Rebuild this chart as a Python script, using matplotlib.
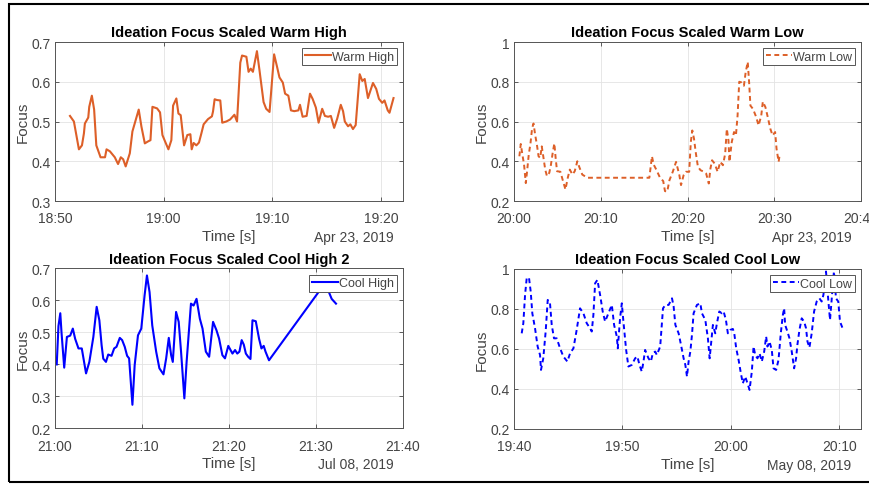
"""Ideation focus, four sessions, recreated from the MATLAB figure"""

import datetime
import matplotlib
matplotlib.use("Agg")
import matplotlib.pyplot as plt
import matplotlib.dates as mdates
from matplotlib.ticker import FuncFormatter, MultipleLocator
from matplotlib.patches import Rectangle

plt.rcParams['font.family'] = ['Liberation Sans', 'DejaVu Sans']

# --- data: minutes after the session start, and focus value ---
warm_high_min = [1.38, 1.74, 2.2, 2.48, 2.66, 2.75, 3.06, 3.15, 3.39, 3.6, 3.8, 4.19, 4.6,
                 4.74, 5.05, 5.5, 5.8, 6.05, 6.27, 6.5, 6.88, 7.12, 7.7, 7.95, 8.26, 8.56,
                 8.78, 8.96, 9.39, 9.66, 9.88, 10.12, 10.43, 10.7, 10.86, 11.16, 11.35,
                 11.56, 11.87, 12.17, 12.45, 12.57, 12.75, 13.0, 13.24, 13.46, 13.67, 14.07,
                 14.43, 14.53, 14.68, 14.9, 15.2, 15.38, 15.75, 16.1, 16.5, 16.74, 17.04,
                 17.2, 17.6, 17.8, 18.0, 18.2, 18.57, 18.8, 19.18, 19.42, 19.73, 20.15,
                 20.4, 20.64, 20.95, 21.16, 21.46, 21.7, 22.0, 22.38, 22.53, 22.77, 23.14,
                 23.45, 23.69, 23.99, 24.24, 24.57, 24.82, 25.12, 25.37, 25.67, 25.95,
                 26.28, 26.49, 26.65, 26.95, 27.16, 27.4, 27.65, 28.02, 28.26, 28.48,
                 28.78, 29.24, 29.54, 29.79, 30.09, 30.3, 30.6, 30.76, 31.13]
warm_high = [0.514, 0.50, 0.43, 0.44, 0.47, 0.495, 0.51, 0.537, 0.565, 0.53, 0.44, 0.41, 0.41,
             0.43, 0.425, 0.41, 0.393, 0.41, 0.405, 0.387, 0.42, 0.475, 0.53, 0.487, 0.445, 0.45,
             0.453, 0.537, 0.533, 0.523, 0.466, 0.45, 0.43, 0.453, 0.54, 0.558, 0.52,
             0.516, 0.44, 0.466, 0.468, 0.43, 0.446, 0.44, 0.447, 0.47, 0.493, 0.506,
             0.513, 0.525, 0.556, 0.554, 0.553, 0.497, 0.50, 0.505, 0.517, 0.50, 0.648,
             0.666, 0.663, 0.625, 0.633, 0.625, 0.677, 0.63, 0.549, 0.532, 0.524, 0.669,
             0.64, 0.611, 0.598, 0.57, 0.565, 0.528, 0.526, 0.528, 0.542, 0.512, 0.514,
             0.57, 0.557, 0.535, 0.497, 0.532, 0.514, 0.512, 0.514, 0.484, 0.507,
             0.542, 0.526, 0.50, 0.488, 0.493, 0.481, 0.491, 0.619, 0.602, 0.607,
             0.559, 0.597, 0.582, 0.557, 0.547, 0.553, 0.528, 0.522, 0.559]

warm_low_min = [0.62, 0.78, 0.97, 1.16, 1.36, 1.51, 1.7, 1.9, 2.09, 2.25, 2.44, 2.64, 2.83,
                3.02, 3.2, 3.4, 3.6, 3.8, 4.07, 4.26, 4.46, 4.65, 4.8, 4.96, 5.35, 5.6, 5.93,
                6.2, 6.43, 6.74, 7.0, 7.3, 7.56, 7.87, 8.45, 15.6, 15.9, 16.1, 16.4, 16.8,
                17.2, 17.4, 17.66, 17.92, 18.3, 18.68, 19.06, 19.25, 19.55, 19.8, 20.19,
                20.38, 20.55, 20.75, 20.94, 21.2, 21.5, 21.9, 22.15, 22.45, 22.64, 22.83,
                23.13, 23.47, 23.77, 24.08, 24.34, 24.53, 24.72, 24.83, 25.1, 25.36, 25.58,
                25.77, 25.96, 26.2, 26.5, 26.7, 26.94, 27.1, 27.25, 27.55, 27.92, 28.19,
                28.5, 28.68, 28.98, 29.25, 29.55, 29.8, 30.1, 30.26, 30.5, 30.64]
warm_low = [0.425, 0.487, 0.433, 0.383, 0.29, 0.35, 0.433, 0.49, 0.567, 0.59, 0.533, 0.483, 0.425,
            0.417, 0.475, 0.417, 0.358, 0.325, 0.342, 0.383, 0.442, 0.49, 0.417, 0.35, 0.347, 0.308, 0.258,
            0.317, 0.358, 0.333, 0.35, 0.40, 0.367, 0.333, 0.317, 0.317, 0.425, 0.383, 0.358, 0.32,
            0.30, 0.25, 0.247, 0.305, 0.347, 0.397, 0.33, 0.28, 0.33, 0.347, 0.347,
            0.497, 0.555, 0.513, 0.447, 0.372, 0.355, 0.347, 0.338, 0.288, 0.363, 0.405,
            0.388, 0.347, 0.397, 0.38, 0.438, 0.563, 0.505, 0.397, 0.497, 0.547, 0.53,
            0.63, 0.80, 0.797, 0.78, 0.847, 0.90, 0.797, 0.68, 0.663, 0.622, 0.58,
            0.63, 0.70, 0.672, 0.622, 0.563, 0.53, 0.547, 0.463, 0.397, 0.438]

cool_high_min = [0.2, 0.4, 0.61, 0.75, 1.06, 1.37, 1.75, 2.05, 2.32, 2.7, 3.08, 3.57, 3.95, 4.41,
                 4.79, 5.1, 5.36, 5.55, 5.86, 6.12, 6.5, 6.8, 7.07, 7.45, 7.72, 8.02, 8.29,
                 8.52, 8.9, 9.16, 9.54, 9.92, 10.3, 10.57, 10.87, 11.18, 11.63, 12.0, 12.47,
                 12.78, 13.08, 13.35, 13.54, 13.92, 14.22, 14.49, 14.87, 15.13, 15.63, 15.93,
                 16.27, 16.65, 16.96, 17.34, 17.72, 18.17, 18.56, 18.86, 19.24, 19.54, 19.92,
                 20.4, 20.7, 20.95, 21.2, 21.46, 21.7, 21.94, 22.2, 22.47, 22.7, 23.08, 23.46,
                 23.73, 23.99, 24.2, 24.6, 30.8, 31.5, 31.8, 32.3]
cool_high = [0.40, 0.52, 0.56, 0.50, 0.39, 0.486, 0.49, 0.512, 0.48, 0.45, 0.45, 0.372, 0.408, 0.486,
             0.58, 0.538, 0.46, 0.418, 0.408, 0.431, 0.427, 0.45, 0.455, 0.483, 0.476, 0.455, 0.427,
             0.419, 0.274, 0.398, 0.491, 0.512, 0.616, 0.678, 0.626, 0.522, 0.44, 0.388, 0.369,
             0.419, 0.483, 0.429, 0.408, 0.564, 0.533, 0.44, 0.294, 0.408, 0.59, 0.584,
             0.605, 0.543, 0.512, 0.44, 0.424, 0.533, 0.507, 0.481, 0.429, 0.419, 0.458,
             0.434, 0.445, 0.434, 0.44, 0.476, 0.462, 0.434, 0.424, 0.417, 0.538, 0.535, 0.48,
             0.45, 0.458, 0.44, 0.413, 0.645, 0.625, 0.605, 0.59]

cool_low_min = [0.71, 0.86, 1.02, 1.17, 1.38, 1.54, 1.69, 1.94, 2.18, 2.4, 2.49, 2.7, 2.92, 3.11,
                3.32, 3.48, 3.69, 3.94, 4.25, 4.55, 4.92, 5.17, 5.48, 5.78, 6.09, 6.4, 6.71,
                7.02, 7.17, 7.32, 7.48, 7.69, 7.94, 8.18, 8.4, 8.71, 9.02, 9.23, 9.48, 9.57,
                9.78, 9.94, 10.09, 10.34, 10.55, 10.86, 11.17, 11.38, 11.57, 11.78, 11.94,
                12.09, 12.4, 12.62, 12.8, 13.02, 13.17, 13.48, 13.74, 13.96, 14.26, 14.57,
                14.72, 14.88, 15.18, 15.4, 15.64, 15.8, 15.95, 16.1, 16.26, 16.41, 16.56,
                16.87, 17.18, 17.33, 17.64, 17.88, 18.04, 18.16, 18.34, 18.56, 18.71, 18.93,
                19.17, 19.33, 19.54, 19.72, 19.94, 20.18, 20.31, 20.49, 20.71, 20.92, 21.1,
                21.32, 21.53, 21.72, 21.93, 22.09, 22.24, 22.45, 22.64, 22.85, 23.07, 23.25,
                23.37, 23.56, 23.77, 23.93, 24.17, 24.39, 24.6, 24.79, 24.91, 25.0, 25.21,
                25.4, 25.61, 25.83, 26.01, 26.13, 26.32, 26.53, 26.75, 26.93, 27.06, 27.24,
                27.45, 27.67, 27.91, 28.16, 28.37, 28.53, 28.77, 28.99, 29.14, 29.5, 29.69,
                29.9, 30.06, 30.3, 30.43]
cool_low = [0.678, 0.728, 0.87, 0.953, 0.957, 0.887, 0.778, 0.703, 0.612, 0.57, 0.495, 0.553, 0.687, 0.845,
            0.828, 0.72, 0.653, 0.653, 0.603, 0.562, 0.537, 0.578, 0.603, 0.695, 0.803, 0.778, 0.728,
            0.703, 0.687, 0.77, 0.928, 0.945, 0.87, 0.787, 0.737, 0.778, 0.82, 0.72, 0.662, 0.603,
            0.753, 0.828, 0.737, 0.595, 0.512, 0.52, 0.553, 0.562, 0.52, 0.487, 0.537,
            0.595, 0.553, 0.537, 0.578, 0.587, 0.57, 0.612, 0.803, 0.82, 0.82, 0.853,
            0.812, 0.72, 0.678, 0.62, 0.553, 0.52, 0.462, 0.537, 0.587, 0.67, 0.778,
            0.82, 0.828, 0.778, 0.745, 0.653, 0.553, 0.62, 0.72, 0.678, 0.728, 0.787,
            0.778, 0.787, 0.745, 0.678, 0.695, 0.70, 0.678, 0.603, 0.545, 0.478, 0.428,
            0.462, 0.428, 0.395, 0.487, 0.612, 0.57, 0.553, 0.578, 0.537, 0.587, 0.662,
            0.612, 0.637, 0.595, 0.503, 0.495, 0.545, 0.678, 0.77, 0.803, 0.72, 0.687,
            0.653, 0.587, 0.503, 0.553, 0.62, 0.695, 0.753, 0.737, 0.703, 0.637, 0.607,
            0.678, 0.787, 0.837, 0.853, 0.837, 0.87, 0.987, 0.837, 0.745, 0.987, 0.853,
            0.837, 0.737, 0.703, 0.695]

ORANGE = '#DD5F28'
BLUE = '#0000FF'
TXT = '#444444'


def to_times(start, minutes):
    return [start + datetime.timedelta(minutes=m) for m in minutes]


def style_axes(ax, title, start, end, ylim, ystep, datestr):
    ax.set_title(title, fontsize=10.5, fontweight='bold', pad=4)
    ax.set_xlim(start, end)
    ax.set_ylim(*ylim)
    ax.xaxis.set_major_locator(mdates.MinuteLocator(byminute=[0, 10, 20, 30, 40, 50]))
    ax.xaxis.set_major_formatter(mdates.DateFormatter('%H:%M'))
    ax.yaxis.set_major_locator(MultipleLocator(ystep))
    ax.yaxis.set_major_formatter(FuncFormatter(lambda v, p: '%g' % round(v, 2)))
    ax.tick_params(direction='in', length=3, width=0.6, colors=TXT, labelsize=10,
                   top=True, right=True)
    ax.tick_params(axis='x', pad=7.5)
    ax.tick_params(axis='y', pad=3)
    ax.grid(True, color='#e3e3e3', linewidth=0.6)
    for s in ax.spines.values():
        s.set_color('#555555')
        s.set_linewidth(0.7)
    ax.set_xlabel('Time [s]', fontsize=11, color=TXT, labelpad=2.5)
    ax.set_ylabel('Focus', fontsize=11, color=TXT, labelpad=1)
    ax.text(0.972, -0.225, datestr, transform=ax.transAxes, ha='right', va='center',
            fontsize=10, color=TXT)
    leg = ax.legend(loc='upper right', fontsize=9, frameon=True, fancybox=False,
                    framealpha=1, handlelength=2.1, handletextpad=0.1, borderpad=0.2,
                    borderaxespad=0.5)
    leg.get_frame().set_edgecolor('#555555')
    leg.get_frame().set_linewidth(0.7)
    for t in leg.get_texts():
        t.set_color(TXT)


fig = plt.figure(figsize=(8.7, 4.85), dpi=100)
ax1 = fig.add_axes([0.0632, 0.5835, 0.4, 0.3278])
ax2 = fig.add_axes([0.5908, 0.5835, 0.3989, 0.3278])
ax3 = fig.add_axes([0.0632, 0.1145, 0.4, 0.33])
ax4 = fig.add_axes([0.5908, 0.1135, 0.3989, 0.33])

# Warm High
t0 = datetime.datetime(2019, 4, 23, 18, 50)
ax1.plot(to_times(t0, warm_high_min), warm_high, color=ORANGE, lw=1.5, label='Warm High')
style_axes(ax1, 'Ideation Focus Scaled Warm High', t0,
           t0 + datetime.timedelta(minutes=32), (0.3, 0.7), 0.1, 'Apr 23, 2019')

# Warm Low
t0 = datetime.datetime(2019, 4, 23, 20, 0)
ax2.plot(to_times(t0, warm_low_min), warm_low, color=ORANGE, lw=1.4,
         linestyle=(0, (2.5, 1.8)), label='Warm Low')
style_axes(ax2, 'Ideation Focus Scaled Warm Low', t0,
           t0 + datetime.timedelta(minutes=40), (0.2, 1.0), 0.2, 'Apr 23, 2019')

# Cool High 2
t0 = datetime.datetime(2019, 7, 8, 21, 0)
ax3.plot(to_times(t0, cool_high_min), cool_high, color=BLUE, lw=1.5, label='Cool High')
style_axes(ax3, 'Ideation Focus Scaled Cool High 2', t0,
           t0 + datetime.timedelta(minutes=40), (0.2, 0.7), 0.1, 'Jul 08, 2019')

# Cool Low
t0 = datetime.datetime(2019, 5, 8, 19, 40)
ax4.plot(to_times(t0, cool_low_min), cool_low, color=BLUE, lw=1.4,
         linestyle=(0, (2.5, 1.8)), label='Cool Low')
style_axes(ax4, 'Ideation Focus Scaled Cool Low', t0,
           t0 + datetime.timedelta(minutes=32), (0.2, 1.0), 0.2, 'May 08, 2019')

# black frame around the whole figure (right edge cut off)
fig.patches.append(Rectangle((9 / 870, 2 / 485), 1.05, 1 - 7 / 485, transform=fig.transFigure,
                             fill=False, edgecolor='black', linewidth=1.5, clip_on=False))

fig.savefig('out.png', dpi=100)
